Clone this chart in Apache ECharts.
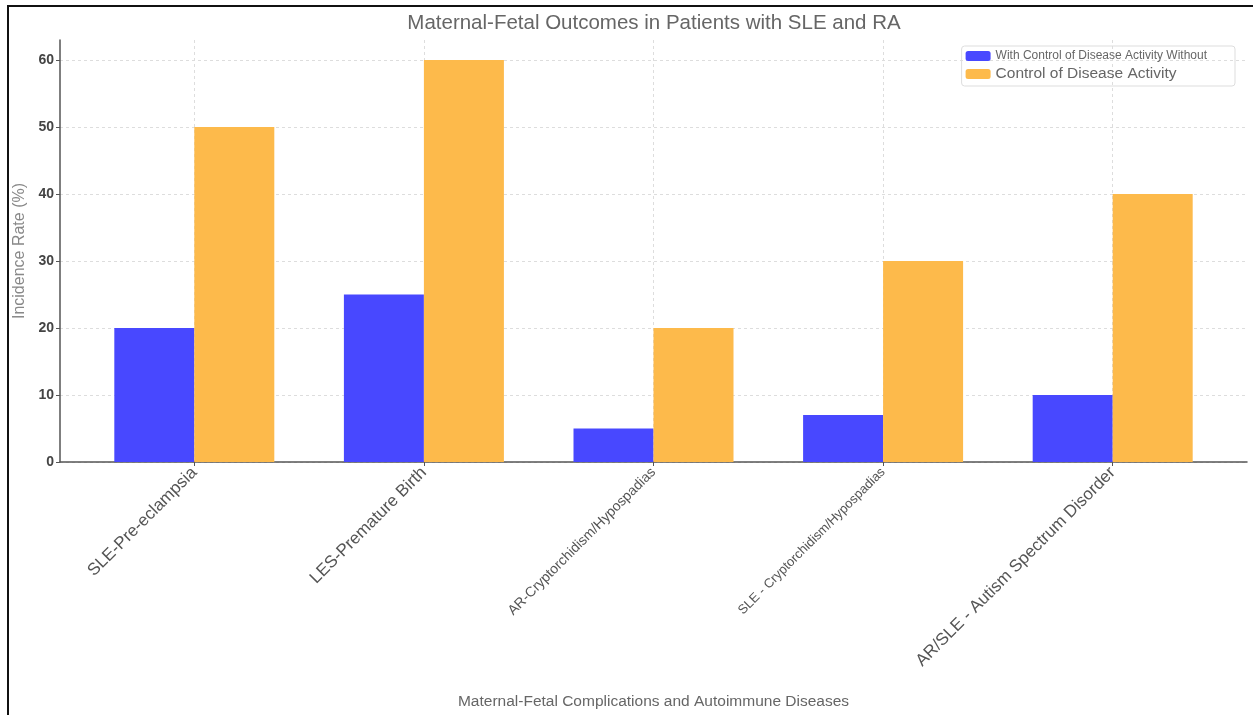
<!DOCTYPE html>
<html>
<head>
<meta charset="utf-8">
<script src="https://cdn.jsdelivr.net/npm/echarts@6/dist/echarts.min.js"></script>
<style>
  html, body { margin: 0; padding: 0; background: #fff; }
  #echarts { width: 1253px; height: 715px; }
  .frame { position: absolute; left: 7px; top: 5px; width: 1253px; height: 720px;
           border-top: 2px solid #111; border-left: 2px solid #111; pointer-events: none; }
</style>
</head>
<body>
<div id="echarts"></div>
<div class="frame"></div>
<script>
// data
var categories = ['SLE-Pre-eclampsia', 'LES-Premature Birth', 'AR-Cryptorchidism/Hypospadias',
    'SLE - Cryptorchidism/Hypospadias', 'AR/SLE - Autism Spectrum Disorder'];
var withControl = [20, 25, 5, 7, 10];
var withoutControl = [50, 60, 20, 30, 40];
var seriesNames = ['With Control of Disease Activity Without', 'Control of Disease Activity'];
var yTicks = [0, 10, 20, 30, 40, 50, 60];
// label sizes differ in the picture
var labelSizes = [17, 17, 14, 13, 17];

var myChart = echarts.init(document.getElementById('echarts'));

var idx = categories.map(function (c, i) { return i; });
var rich = {};
labelSizes.forEach(function (s, i) {
    rich['c' + i] = { fontSize: s, color: '#555', fontFamily: 'Liberation Sans' };
});

var option = {
    animation: false,
    textStyle: { fontFamily: 'Liberation Sans' },
    title: {
        text: 'Maternal-Fetal Outcomes in Patients with SLE and RA',
        left: 649,
        textAlign: 'center',
        top: 8,
        textStyle: { fontSize: 20.5, fontWeight: 'normal', color: '#666' }
    },
    legend: {
        orient: 'vertical',
        right: 18,
        top: 46,
        itemWidth: 25,
        itemHeight: 10,
        itemGap: 4,
        padding: [4, 28, 4, 4],
        borderColor: '#ddd',
        borderWidth: 1,
        borderRadius: 3,
        data: [
            { name: seriesNames[0], textStyle: { fontSize: 12, color: '#666' } },
            { name: seriesNames[1], textStyle: { fontSize: 15.5, color: '#666' } }
        ]
    },
    grid: { left: 60, right: 6, top: 40, bottom: 253, outerBoundsMode: 'none' },
    xAxis: {
        type: 'value',
        min: -0.585,
        max: 4.585,
        name: 'Maternal-Fetal Complications and Autoimmune Diseases',
        nameLocation: 'middle',
        nameGap: 232,
        nameTextStyle: { fontSize: 15.5, color: '#666' },
        axisLine: { show: true, onZero: false, lineStyle: { color: '#555', width: 1.5 } },
        axisTick: { show: true, customValues: idx, length: 4, lineStyle: { color: '#555' } },
        axisLabel: {
            customValues: idx,
            rotate: 45,
            margin: 8,
            formatter: function (v) {
                var i = Math.round(v);
                return '{c' + i + '|' + categories[i] + '}';
            },
            rich: rich
        },
        splitLine: { show: true, lineStyle: { color: '#ddd', type: [3, 3] } }
    },
    yAxis: {
        type: 'value',
        min: 0,
        max: 63,
        interval: 10,
        name: 'Incidence Rate (%)',
        nameLocation: 'middle',
        nameGap: 29,
        nameTextStyle: { fontSize: 16, color: '#888' },
        axisLine: { show: true, onZero: false, lineStyle: { color: '#555', width: 1.5 } },
        axisTick: { show: true, length: 4, customValues: yTicks, lineStyle: { color: '#555' } },
        axisLabel: {
            fontSize: 14, color: '#444', fontWeight: 'bold', margin: 6,
            customValues: yTicks
        },
        splitLine: { show: true, lineStyle: { color: '#ddd', type: [3, 3] } }
    },
    series: [
        {
            name: seriesNames[0],
            type: 'bar',
            barWidth: 80,
            barGap: '0%',
            itemStyle: { color: '#4848FF' },
            data: withControl.map(function (v, i) { return [i, v]; })
        },
        {
            name: seriesNames[1],
            type: 'bar',
            barWidth: 80,
            barGap: '0%',
            itemStyle: { color: '#FDBA4B' },
            data: withoutControl.map(function (v, i) { return [i, v]; })
        }
    ]
};

myChart.setOption(option);
</script>
</body>
</html>
